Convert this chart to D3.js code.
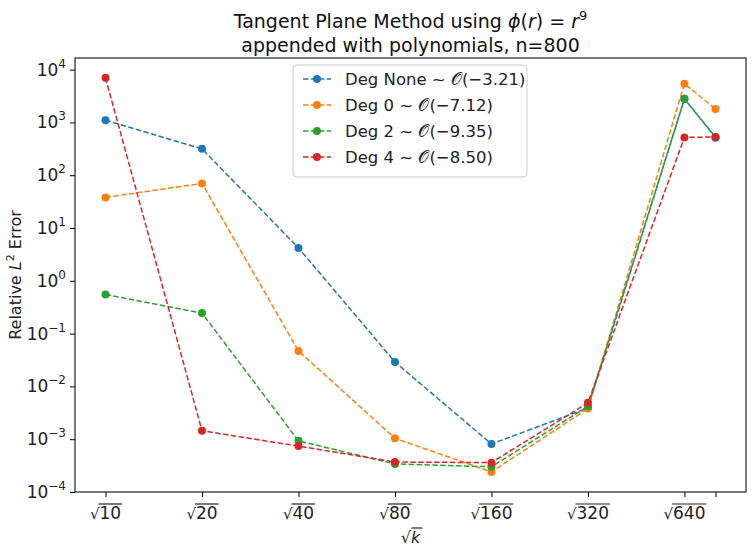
<!DOCTYPE html>
<html><head><meta charset="utf-8">
<script src="https://cdn.jsdelivr.net/npm/d3@7"></script>
<style>body{margin:0;background:#fff}text{font-family:"DejaVu Sans",sans-serif}</style>
</head><body><svg id="chart" width="755" height="554"></svg>
<script>
var kValues = [10, 20, 40, 80, 160, 320, 640, 800];
var tickLabels = ["10", "20", "40", "80", "160", "320", "640", ""];
var degNone = [1100, 316, 4.2, 0.029, 8.1e-4, 3.9e-3, 2800, 515];
var deg0 = [38, 70, 0.047, 1.04e-3, 2.4e-4, 3.8e-3, 5400, 1800];
var deg2 = [0.55, 0.245, 9.3e-4, 3.4e-4, 3.0e-4, 4.2e-3, 2800, 530];
var deg4 = [7000, 1.45e-3, 7.4e-4, 3.7e-4, 3.6e-4, 4.9e-3, 520, 530];
var seriesNames = ["Deg None", "Deg 0", "Deg 2", "Deg 4"];
var rates = ["−3.21", "−7.12", "−9.35", "−8.50"];
var colors = ["#1f77b4", "#ff7f0e", "#2ca02c", "#d62728"];

function draw() {
  var margin = {top: 58, right: 9, bottom: 62, left: 75};
  var w = 755, h = 554;
  var svg = d3.select("#chart");
  var all = [degNone, deg0, deg2, deg4];

  //log2 x scale with 5% margins like matplotlib
  var lx0 = Math.log2(kValues[0]), lx1 = Math.log2(kValues[kValues.length - 1]);
  var px = (lx1 - lx0) * 0.05;
  var xScale = d3.scaleLog().base(2)
    .domain([Math.pow(2, lx0 - px), Math.pow(2, lx1 + px)])
    .range([margin.left, w - margin.right]);
  var yScale = d3.scaleLog()
    .domain([1e-4, Math.pow(10, 4.22)])
    .range([h - margin.bottom, margin.top]);

  //lines and points
  all.forEach(function (vals, s) {
    var pts = vals.map(function (v, i) { return [kValues[i], v]; });
    var line = d3.line()
      .x(function (d) { return xScale(d[0]); })
      .y(function (d) { return yScale(d[1]); });
    svg.append("path").datum(pts)
      .attr("d", line).attr("fill", "none")
      .attr("stroke", colors[s]).attr("stroke-width", 1.5)
      .attr("stroke-dasharray", "5.5,2.4");
    svg.selectAll(null).data(pts).enter().append("circle")
      .attr("cx", function (d) { return xScale(d[0]); })
      .attr("cy", function (d) { return yScale(d[1]); })
      .attr("r", 4).attr("fill", colors[s]);
  });

  //frame
  svg.append("rect")
    .attr("x", margin.left).attr("y", margin.top)
    .attr("width", w - margin.left - margin.right)
    .attr("height", h - margin.top - margin.bottom)
    .attr("fill", "none").attr("stroke", "#222").attr("stroke-width", 1.2);

  //x axis
  var xAxis = svg.append("g")
    .attr("transform", "translate(0," + (h - margin.bottom) + ")")
    .call(d3.axisBottom(xScale).tickValues(kValues).tickSize(5).tickFormat(function () { return ""; }));
  xAxis.select(".domain").remove();
  kValues.forEach(function (k, i) {
    if (!tickLabels[i]) return;
    var g = svg.append("g").attr("transform", "translate(" + xScale(k) + "," + (h - margin.bottom + 27) + ")");
    var t = g.append("text").attr("text-anchor", "middle").attr("font-size", 17).attr("fill", "#222")
      .attr("x", 0);
    t.append("tspan").attr("font-size", 15).text("\u221A");
    var num = t.append("tspan").text(tickLabels[i]);
    var bb = t.node().getBBox();
    var nw = num.node().getComputedTextLength();
    g.append("line").attr("x1", bb.x + bb.width - nw - 1).attr("x2", bb.x + bb.width + 1)
      .attr("y1", -15).attr("y2", -15).attr("stroke", "#222").attr("stroke-width", 1.2);
  });

  //y axis
  var yTicks = d3.range(-4, 5).map(function (e) { return Math.pow(10, e); });
  var yAxis = svg.append("g")
    .attr("transform", "translate(" + margin.left + ",0)")
    .call(d3.axisLeft(yScale).tickValues(yTicks).tickSize(5).tickFormat(function () { return ""; }));
  yAxis.select(".domain").remove();
  d3.range(-4, 5).forEach(function (e) {
    var t = svg.append("text").attr("x", margin.left - 9).attr("y", yScale(Math.pow(10, e)) + 6)
      .attr("text-anchor", "end").attr("font-size", 17).attr("fill", "#222");
    t.append("tspan").text("10");
    t.append("tspan").attr("dy", -8).attr("font-size", 12).text(e < 0 ? "\u2212" + (-e) : e);
  });

  //axis labels
  var yl = svg.append("text").attr("transform", "translate(21," + ((margin.top + h - margin.bottom) / 2) + ") rotate(-90)")
    .attr("text-anchor", "middle").attr("font-size", 16).attr("fill", "#222");
  yl.append("tspan").text("Relative ");
  yl.append("tspan").attr("font-style", "italic").text("L");
  yl.append("tspan").attr("dy", -7).attr("font-size", 11).text("2");
  yl.append("tspan").attr("dy", 7).text(" Error");
  var cx = (margin.left + w - margin.right) / 2;
  svg.append("text").attr("x", cx).attr("y", 543).attr("text-anchor", "middle").attr("font-size", 16).attr("fill", "#222")
    .html("\u221A<tspan font-style='italic'>k</tspan>");
  svg.append("line").attr("x1", cx + 1).attr("x2", cx + 12).attr("y1", 528).attr("y2", 528).attr("stroke", "#222").attr("stroke-width", 1.2);

  //title
  var t1 = svg.append("text").attr("x", cx).attr("y", 28).attr("text-anchor", "middle").attr("font-size", 19).attr("fill", "#111");
  t1.append("tspan").text("Tangent Plane Method using ");
  t1.append("tspan").attr("font-style", "italic").text("\u03D5");
  t1.append("tspan").text("(");
  t1.append("tspan").attr("font-style", "italic").text("r");
  t1.append("tspan").text(") = ");
  t1.append("tspan").attr("font-style", "italic").text("r");
  t1.append("tspan").attr("dy", -8).attr("font-size", 13).text("9");
  svg.append("text").attr("x", cx).attr("y", 52).attr("text-anchor", "middle").attr("font-size", 19).attr("fill", "#111")
    .text("appended with polynomials, n=800");

  //legend
  var lg = svg.append("g").attr("transform", "translate(293,65)");
  lg.append("rect").attr("width", 234).attr("height", 112).attr("rx", 4)
    .attr("fill", "#fff").attr("fill-opacity", 0.8).attr("stroke", "#ccc");
  seriesNames.forEach(function (name, i) {
    var y = 14 + i * 26;
    lg.append("line").attr("x1", 10).attr("x2", 38).attr("y1", y).attr("y2", y)
      .attr("stroke", colors[i]).attr("stroke-width", 1.5).attr("stroke-dasharray", "5.5,2.4");
    lg.append("circle").attr("cx", 24).attr("cy", y).attr("r", 4).attr("fill", colors[i]);
    lg.append("text").attr("x", 52).attr("y", y + 6).attr("font-size", 16.5).attr("fill", "#222")
      .text(name + " ~ \uD835\uDCAA(" + rates[i] + ")");
  });
}
window.onload = draw;
</script></body></html>
